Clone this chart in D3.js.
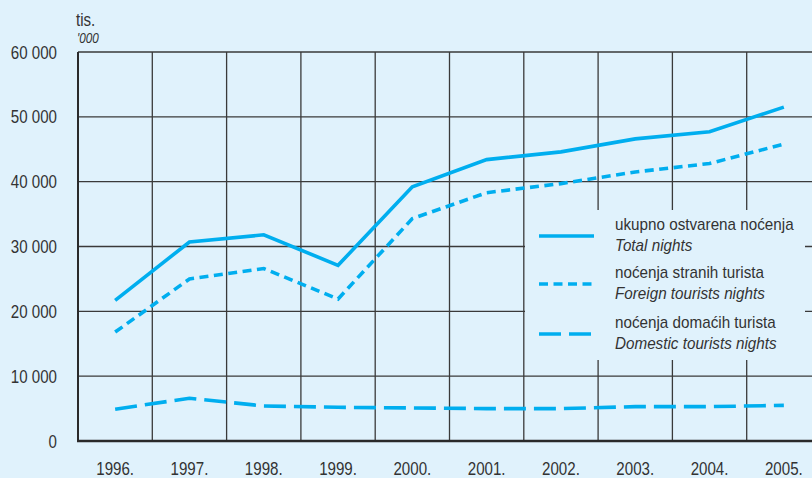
<!DOCTYPE html>
<html><head><meta charset="utf-8">
<script src="https://cdn.jsdelivr.net/npm/d3@7"></script>
<style>
html,body{margin:0;padding:0;background:#e0f2fc;}
svg{display:block;}
text{fill:#333;}
</style></head>
<body>
<script>
const years = ["1996.","1997.","1998.","1999.","2000.","2001.","2002.","2003.","2004.","2005."];
const totalNights = [21700,30700,31800,27100,39200,43400,44600,46600,47700,51500];
const foreignNights = [16800,25000,26600,21900,34300,38300,39700,41500,42800,45800];
const domesticNights = [4900,6600,5400,5200,5100,5000,5000,5300,5300,5500];
const yTicks = [0,10000,20000,30000,40000,50000,60000];
const legendLabels = [
  ["ukupno ostvarena noćenja","Total nights"],
  ["noćenja stranih turista","Foreign tourists nights"],
  ["noćenja domaćih turista","Domestic tourists nights"]
];

const W=812,H=478;
const bg="#e0f2fc", lineCol="#00aeef", gridCol="#3a3a3a";
const svg=d3.select("body").append("svg").attr("width",W).attr("height",H);
svg.append("rect").attr("width",W).attr("height",H).attr("fill",bg);

const x=d3.scaleBand().domain(years).range([78,821]);
const y=d3.scaleLinear().domain([0,60000]).range([441,52]);
const fmt=v=>v===0?"0":d3.format(",")(v).replace(/,/g," ");
const font="'Liberation Sans',Arial,sans-serif";
const SX=0.84;

// gridlines
const g=svg.append("g");
g.selectAll("line.h").data(yTicks.slice(1)).join("line")
  .attr("x1",78).attr("x2",W).attr("y1",d=>y(d)).attr("y2",d=>y(d))
  .attr("stroke",gridCol).attr("stroke-width",1.3);
g.selectAll("line.v").data(years.slice(1)).join("line")
  .attr("x1",d=>x(d)).attr("x2",d=>x(d)).attr("y1",y(60000)).attr("y2",y(0))
  .attr("stroke",gridCol).attr("stroke-width",1.3);

// legend box covers grid
svg.append("rect").attr("x",525).attr("y",210).attr("width",280).attr("height",150).attr("fill",bg);

// axes lines
svg.append("line").attr("x1",78).attr("x2",78).attr("y1",y(60000)).attr("y2",y(0)+1)
  .attr("stroke","#2a2a2a").attr("stroke-width",2);
svg.append("line").attr("x1",77).attr("x2",W).attr("y1",y(0)).attr("y2",y(0))
  .attr("stroke","#2a2a2a").attr("stroke-width",2.5);

// condensed text helper
function ctext(px,py,str,size,anchor,italic,sx){
  const t=svg.append("text")
    .attr("transform",`translate(${px},${py}) scale(${sx||SX},1)`)
    .attr("text-anchor",anchor||"start")
    .style("font-family",font).style("font-size",size+"px").text(str);
  if(italic) t.style("font-style","italic");
  return t;
}

// y tick labels
yTicks.forEach(d=>ctext(57,y(d)+6.5,fmt(d),18,"end"));
// x tick labels
years.forEach(d=>ctext(x(d)+x.bandwidth()/2,475,d,18,"middle"));

// unit labels
ctext(76,26,"tis.",18,"start");
ctext(77,43,"'000",14,"start",true);

// lines
const line=d3.line().x((d,i)=>x(years[i])+x.bandwidth()/2).y(d=>y(d));
const series=[
  {vals:totalNights,dash:null},
  {vals:foreignNights,dash:"9,5.5"},
  {vals:domesticNights,dash:"22,8"}
];
series.forEach(s=>{
  svg.append("path").attr("d",line(s.vals)).attr("fill","none")
    .attr("stroke",lineCol).attr("stroke-width",3.6)
    .attr("stroke-dasharray",s.dash);
});

// legend
const ly=[236,284,334];
legendLabels.forEach((lab,i)=>{
  svg.append("line").attr("x1",539).attr("x2",594).attr("y1",ly[i]).attr("y2",ly[i])
    .attr("stroke",lineCol).attr("stroke-width",3.6).attr("stroke-dasharray",series[i].dash);
  ctext(615,ly[i]-6,lab[0],16.2,"start",false,0.94);
  ctext(615,ly[i]+15,lab[1],16.2,"start",true,0.94);
});
</script>
</body></html>
